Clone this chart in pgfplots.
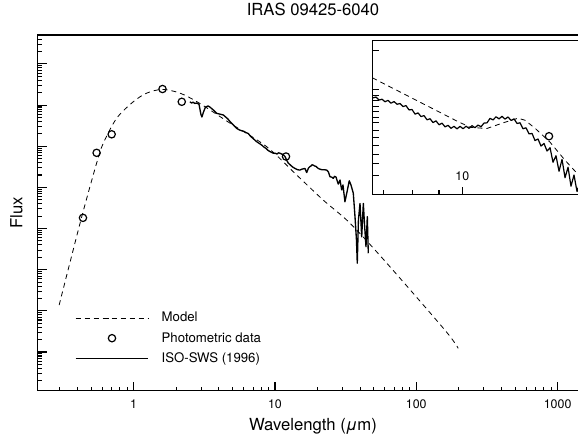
\documentclass[border=0pt]{standalone}
\usepackage{pgfplots}
\pgfplotsset{compat=1.18}
\usepackage{pgfplotstable}
\usepackage{fontspec}
\setmainfont{TeX Gyre Heros}

\pgfplotstableread{
lam d
0.297 1.14
0.354 2.17
0.438 3.40
0.547 4.59
0.609 5.07
0.758 5.68
0.993 6.08
1.236 6.29
1.59 6.38
2.13 6.29
2.94 6.04
4.81 5.56
8.73 4.99
14.25 4.30
21.98 3.69
33.96 3.13
61.8 2.16
159.6 0.53
198 0.09
}\modeltab

\pgfplotstableread{
lam d
0.438 3.26
0.547 4.84
0.699 5.29
1.60 6.39
2.19 6.08
11.97 4.75
}\phottab

\pgfplotstableread{
lam d
2.50 6.08
2.57 6.05
2.63 6.07
2.71 6.04
2.79 6.05
2.90 6.02
2.99 5.78
3.04 5.71
3.12 5.83
3.22 5.95
3.36 5.98
3.47 5.95
3.58 5.91
3.72 5.86
3.87 5.80
4.08 5.78
4.31 5.76
4.48 5.71
4.65 5.66
4.86 5.58
5.07 5.52
5.22 5.47
5.38 5.43
5.65 5.39
6.04 5.36
6.25 5.33
6.47 5.31
6.68 5.25
6.88 5.21
7.15 5.16
7.42 5.11
7.73 5.07
8.05 5.03
8.35 4.98
8.63 4.95
8.93 4.90
9.22 4.87
9.73 4.83
10.05 4.83
10.33 4.81
10.60 4.84
10.85 4.83
11.15 4.81
11.39 4.80
11.77 4.75
12.10 4.66
12.42 4.59
12.70 4.56
12.98 4.53
13.40 4.49
13.86 4.46
14.45 4.43
15.03 4.42
15.40 4.44
15.79 4.45
16.30 4.46
16.76 4.36
17.26 4.47
17.60 4.50
17.98 4.52
18.30 4.55
18.67 4.54
19.10 4.52
19.50 4.51
20.24 4.46
20.90 4.44
21.51 4.43
22.30 4.43
23.23 4.42
23.84 4.38
24.50 4.26
25.20 4.25
25.86 4.22
26.40 4.27
27.03 4.25
28.06 4.08
28.85 4.18
29.66 3.94
30.28 4.06
31.27 3.65
32.34 3.89
33.55 4.16
34.49 4.06
35.83 3.86
36.84 3.29
37.73 2.72
38.23 2.16
38.96 3.21
39.97 3.61
41.09 2.80
42.19 3.61
43.04 3.09
44.06 2.56
45.02 3.29
45.74 2.40
}\swstab

\pgfplotstableread{
lx d
0.8249 5.161
0.8308 5.169
0.8367 5.140
0.8425 5.148
0.8484 5.124
0.8543 5.137
0.8602 5.110
0.8661 5.126
0.8720 5.100
0.8778 5.107
0.8837 5.078
0.8896 5.087
0.8955 5.046
0.9014 5.050
0.9073 5.006
0.9131 5.018
0.9190 4.983
0.9249 4.992
0.9308 4.952
0.9367 4.962
0.9425 4.926
0.9484 4.942
0.9543 4.905
0.9602 4.920
0.9661 4.885
0.9720 4.899
0.9778 4.871
0.9837 4.890
0.9896 4.866
0.9955 4.890
1.0014 4.867
1.0073 4.891
1.0131 4.871
1.0190 4.896
1.0249 4.877
1.0308 4.902
1.0367 4.886
1.0425 4.921
1.0484 4.923
1.0543 4.966
1.0602 4.951
1.0661 4.981
1.0720 4.961
1.0778 4.985
1.0837 4.959
1.0896 4.979
1.0955 4.946
1.1014 4.961
1.1073 4.917
1.1131 4.924
1.1190 4.867
1.1249 4.876
1.1308 4.818
1.1367 4.822
1.1425 4.755
1.1484 4.769
1.1543 4.702
1.1602 4.727
1.1661 4.655
1.1720 4.686
1.1778 4.548
1.1837 4.610
1.1896 4.462
1.1955 4.575
1.2014 4.401
1.2073 4.501
1.2131 4.320
1.2190 4.427
1.2249 4.269
1.2308 4.358
1.2367 4.234
1.2426 4.262
}\insettab

\pgfplotstableread{
lx d
0.8235 5.352
0.9890 4.941
1.0151 4.881
1.0478 4.869
1.0837 4.929
1.1092 4.967
1.1229 4.948
1.1425 4.872
1.1720 4.739
1.2014 4.567
1.2465 4.329
}\insetmodel

\pgfplotstableread{
lx d
1.170 4.796
}\insetphot

\begin{document}
\begin{tikzpicture}
\begin{axis}[
  at={(0pt,0pt)}, anchor=south west,
  scale only axis, width=412.95pt, height=266.78pt,
  xmode=log, ymode=log,
  xmin=0.2094, xmax=1649, ymin=0.1148, ymax=5.047e7,
  xtick={1,10,100,1000}, xticklabels={1,10,100,1000},
  minor xtick={0.3,0.4,0.5,0.6,0.7,0.8,0.9,2,3,4,5,6,7,8,9,20,30,40,50,60,70,80,90,200,300,400,500,600,700,800,900},
  ytick={1,10,100,1000,10000,100000,1000000,10000000}, yticklabels={},
  minor ytick={0.2,0.3,0.4,0.5,0.6,0.7,0.8,0.9,2,3,4,5,6,7,8,9,20,30,40,50,60,70,80,90,200,300,400,500,600,700,800,900,2000,3000,4000,5000,6000,7000,8000,9000,2e4,3e4,4e4,5e4,6e4,7e4,8e4,9e4,2e5,3e5,4e5,5e5,6e5,7e5,8e5,9e5,2e6,3e6,4e6,5e6,6e6,7e6,8e6,9e6,2e7,3e7,4e7},
  xtick pos=bottom, ytick pos=left,
  tick align=inside,
  major tick length=6.75pt, minor tick length=3pt,
  every tick/.style={black, line width=0.8pt},
  axis line style={line width=1pt},
  xticklabel style={font=\fontsize{9.3}{11}\selectfont, anchor=base, yshift=-13pt},
  xlabel={Wavelength (\textit{μ}m)},
  ylabel={Flux},
  label style={font=\fontsize{12.5}{14}\selectfont},
  xlabel style={at={(rel axis cs:0.5,0)}, anchor=base, yshift=-29.5pt},
  ylabel style={at={(rel axis cs:-0.019,0.5)}, anchor=south, rotate=0},
  title={IRAS 09425-6040},
  title style={at={(rel axis cs:0.5,1)}, anchor=base, yshift=8.8pt, font=\fontsize{12.5}{14}\selectfont},
  legend style={draw=none, fill=none, at={(rel axis cs:0.060,0.236)}, anchor=north west,
    font=\fontsize{9.9}{11}\selectfont, row sep=2.3pt,
    /tikz/every odd column/.append style={column sep=7.5pt}},
  legend cell align=left,
  legend image code/.code={\draw[mark repeat=2,mark phase=2,#1] plot coordinates {(0pt,0pt) (27.25pt,0pt) (54.5pt,0pt)};},
]
\addplot[black, line width=0.6pt, dash pattern=on 3.75pt off 3pt, smooth, tension=0.5]
  table[x=lam, y expr={10^(\thisrow{d})}] {\modeltab};
\addlegendentry{Model}
\addplot[black, only marks, mark=o, mark size=2.75pt, mark options={line width=0.9pt}]
  table[x=lam, y expr={10^(\thisrow{d})}] {\phottab};
\addlegendentry{Photometric data}
\addplot[black, line width=1pt, line join=round]
  table[x=lam, y expr={10^(\thisrow{d})}] {\swstab};
\addlegendentry{ISO-SWS (1996)}
\end{axis}

\begin{axis}[
  at={(250.95pt,147.3pt)}, anchor=south west,
  scale only axis, width=161.8pt, height=115.2pt,
  xmode=log, xmin=6.66, xmax=17.64,
  ymin=4.243, ymax=5.705,
  xtick={10}, xticklabels={10}, minor xtick={7,8,9},
  ytick={5.615,5.241,5.186,5.132,5.081,5.027,4.974,4.922,4.853,4.783,4.710,4.624,4.536,4.418}, yticklabels={},
  xtick pos=bottom, ytick pos=left,
  tick align=inside,
  major tick length=5.25pt, minor tick length=3pt,
  every tick/.style={black, line width=0.8pt},
  axis line style={line width=1pt},
  axis background/.style={fill=white},
  xticklabel style={font=\fontsize{9.3}{11}\selectfont, anchor=base, yshift=10.5pt},
]
\addplot[black, line width=0.6pt, dash pattern=on 3.75pt off 3pt]
  table[x expr={10^(\thisrow{lx})}, y=d] {\insetmodel};
\addplot[black, line width=0.9pt, line join=round]
  table[x expr={10^(\thisrow{lx})}, y=d] {\insettab};
\addplot[black, only marks, mark=o, mark size=2.75pt, mark options={line width=0.9pt}]
  table[x expr={10^(\thisrow{lx})}, y=d] {\insetphot};
\end{axis}
\pgfresetboundingbox
\useasboundingbox (-28.275pt,-33.975pt) rectangle (405.225pt,293.025pt);
\end{tikzpicture}
\end{document}
